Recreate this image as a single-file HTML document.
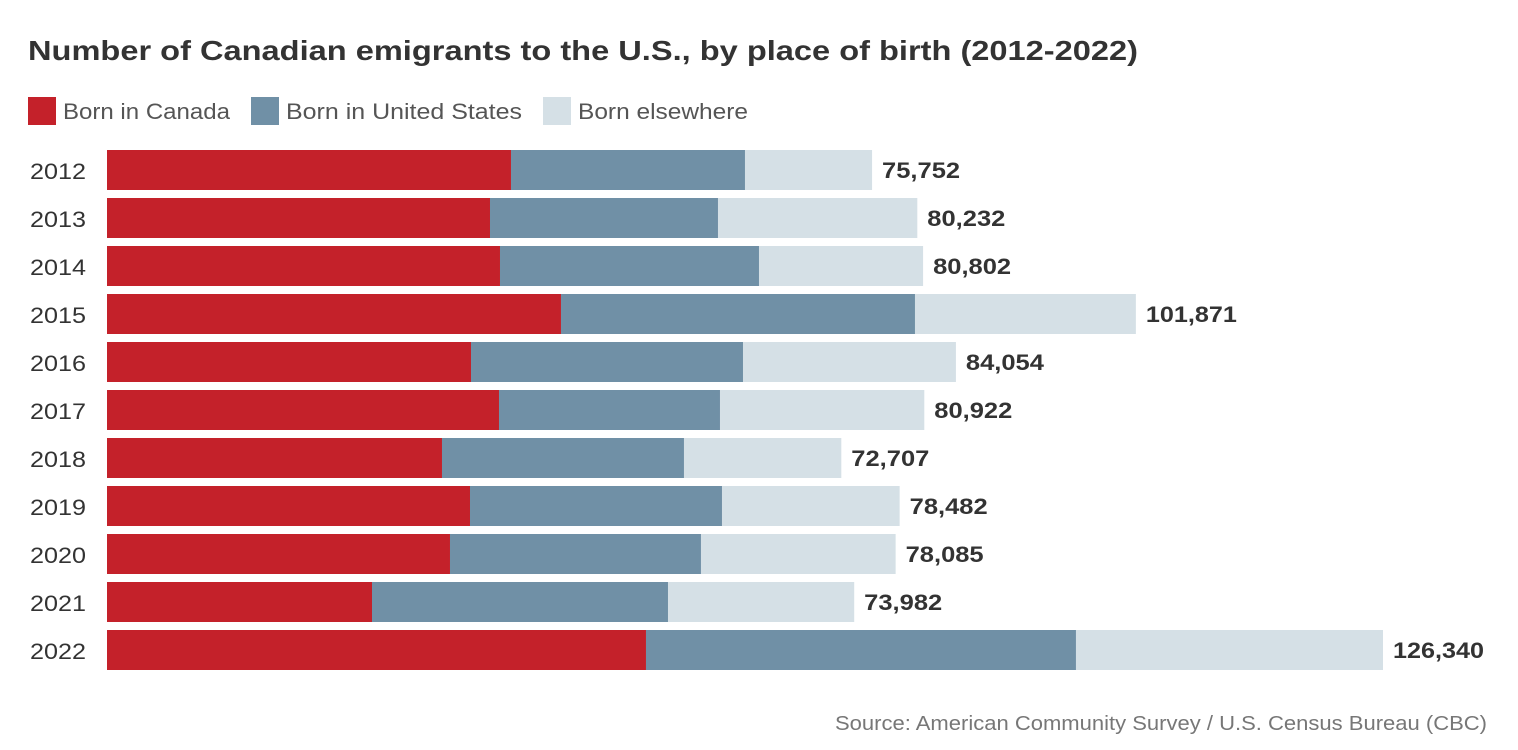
<!DOCTYPE html>
<html><head><meta charset="utf-8">
<style>
body{margin:0;background:#fff;font-family:"Liberation Sans",sans-serif;}
#wrap{position:relative;width:1518px;height:750px;overflow:hidden;}
svg text{font-family:"Liberation Sans",sans-serif;}
</style></head>
<body>
<div id="wrap">
<svg id="chart" width="1518" height="750">
  <text x="28" y="60" font-size="28" font-weight="bold" fill="#333" textLength="1110" lengthAdjust="spacingAndGlyphs">Number of Canadian emigrants to the U.S., by place of birth (2012-2022)</text>
  <g>
    <rect x="28" y="97" width="28" height="28" fill="#c4212a"/>
    <text x="63" y="119" font-size="22" fill="#555" textLength="167" lengthAdjust="spacingAndGlyphs">Born in Canada</text>
    <rect x="251" y="97" width="28" height="28" fill="#7090a6"/>
    <text x="286" y="119" font-size="22" fill="#555" textLength="236" lengthAdjust="spacingAndGlyphs">Born in United States</text>
    <rect x="543" y="97" width="28" height="28" fill="#d5e0e6"/>
    <text x="578" y="119" font-size="22" fill="#555" textLength="170" lengthAdjust="spacingAndGlyphs">Born elsewhere</text>
  </g>
  <g id="bars"></g>
  <text x="835" y="730" font-size="20" fill="#777" textLength="652" lengthAdjust="spacingAndGlyphs">Source: American Community Survey / U.S. Census Bureau (CBC)</text>
</svg>
</div>
<script>
const years = ["2012","2013","2014","2015","2016","2017","2018","2019","2020","2021","2022"];
const bornCanada = [40000,37921,38911,44950,36040,38812,33168,35941,33960,26238,53366];
const bornUS = [23168,22574,25644,35050,26931,21881,23960,24950,24851,29307,42574];
const bornElsewhere = [12584,19737,16247,21871,21083,20229,15579,17591,19274,18437,30400];
const totalLabels = ["75,752","80,232","80,802","101,871","84,054","80,922","72,707","78,482","78,085","73,982","126,340"];

const NS = "http://www.w3.org/2000/svg";
const x0 = 107, scale = 1276/126340;
const xPos = v => x0 + v*scale;
const yPos = i => 150 + i*48;
const barH = 40;
const g = document.getElementById('bars');
const series = [[bornCanada,"#c4212a","canada"],[bornUS,"#7090a6","us"],[bornElsewhere,"#d5e0e6","elsewhere"]];
years.forEach((yr,i)=>{
  const y = yPos(i);
  const lab = document.createElementNS(NS,'text');
  
  
  lab.setAttribute('x',30); lab.setAttribute('y',y+29);
  lab.setAttribute('font-size','22'); lab.setAttribute('fill','#333');
  lab.setAttribute('textLength','56'); lab.setAttribute('lengthAdjust','spacingAndGlyphs');
  lab.textContent = yr; g.appendChild(lab);
  let cum = 0;
  series.forEach(([arr,col,nm])=>{
    const r = document.createElementNS(NS,'rect');
    
    
    r.setAttribute('x',xPos(cum)); r.setAttribute('y',y);
    r.setAttribute('width',arr[i]*scale); r.setAttribute('height',barH);
    r.setAttribute('fill',col); g.appendChild(r);
    cum += arr[i];
  });
  const t = document.createElementNS(NS,'text');
  
  
  t.setAttribute('x',xPos(cum)+10); t.setAttribute('y',y+28);
  t.setAttribute('font-size','22'); t.setAttribute('font-weight','bold'); t.setAttribute('fill','#333');
  t.setAttribute('textLength', String(totalLabels[i].length*13)); t.setAttribute('lengthAdjust','spacingAndGlyphs');
  t.textContent = totalLabels[i]; g.appendChild(t);
});
</script>
</body></html>
